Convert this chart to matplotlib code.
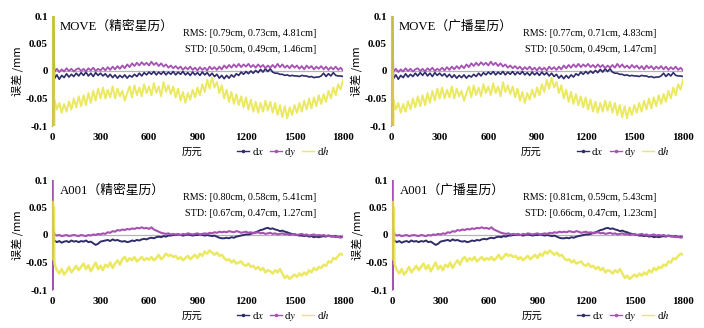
import numpy as np
import matplotlib
matplotlib.use("Agg")
import matplotlib.pyplot as plt
from matplotlib.lines import Line2D

plt.rcParams["font.family"] = ["Liberation Serif", "Noto Sans CJK SC"]
plt.rcParams["mathtext.fontset"] = "stix"

# epochs of the regular samples (every 15 epochs)
EPOCHS = np.arange(15, 1801, 15)

# convergence period at the start of each run (values clipped by the axis)
MOVE_HEAD_DX_EP = [7, 9]
MOVE_HEAD_DX = [-120, 120]
MOVE_HEAD_DY_EP = [10, 12, 13]
MOVE_HEAD_DY = [0, -120, 0]
MOVE_HEAD_DH_EP = [0, 2, 4, 6, 8, 10, 12, 14]
MOVE_HEAD_DH = [120, -120, 120, -120, 120, -120, 120, -120]

A001_HEAD_DX_EP = [5, 10]
A001_HEAD_DX = [-5, -12]
A001_HEAD_DY_EP = [0, 1, 2, 3, 6, 9, 12]
A001_HEAD_DY = [120, -120, 120, -120, 40, -10, 5]
A001_HEAD_DH_EP = [6, 9, 12]
A001_HEAD_DH = [60, -45, 50]

# errors in units of 1e-3 mm
MOVE_DX = [
    -14, -7, -15, -8, -12, -5, -11, -6, -10, -4,
    -9, -3, -8, -2, -9, -4, -10, -3, -8, -4,
    -9, -5, -11, -6, -12, -7, -13, -8, -12, -7,
    -13, -8, -11, -6, -10, -4, -9, -3, -7, -2,
    -6, -1, -7, -2, -6, -1, -7, -2, -6, -1,
    -7, -2, -6, -1, -7, -3, -8, -2, -7, -3,
    -8, -2, -7, -3, -9, -4, -10, -6, -13, -8,
    -14, -8, -13, -7, -11, -5, -8, -2, -6, -1,
    -5, 0, -4, 1, -3, 3, -2, 4, -1, 4,
    -2, -4, -4, -6, -6, -8, -7, -9, -8, -9,
    -9, -10, -8, -9, -9, -11, -10, -12, -11, -11,
    -9, -4, -10, -5, -9, -3, -8, -9, -9, -10,
]
MOVE_DY = [
    -1, 4, -2, 3, -1, 5, 0, 4, -1, 3,
    5, 0, 4, -1, 5, 1, 6, 0, 4, 1,
    6, 1, 7, 2, 8, 3, 9, 4, 10, 5,
    12, 7, 14, 9, 15, 10, 16, 11, 15, 10,
    17, 11, 15, 9, 14, 8, 12, 6, 10, 5,
    9, 4, 8, 2, 7, 3, 8, 2, 6, 1,
    7, 2, 6, 1, 8, 3, 7, 2, 8, 3,
    10, 5, 11, 6, 12, 7, 13, 7, 12, 8,
    13, 7, 11, 6, 12, 7, 11, 5, 10, 6,
    11, 6, 13, 7, 12, 6, 10, 5, 11, 6,
    10, 4, 9, 3, 10, 5, 9, 3, 8, 4,
    9, 3, 8, 2, 7, 3, 8, 2, 6, 1,
]
MOVE_DH = [
    -52, -70, -58, -76, -60, -74, -55, -70, -50, -66,
    -46, -64, -44, -62, -40, -58, -36, -54, -32, -50,
    -30, -50, -34, -48, -28, -50, -32, -46, -36, -54,
    -40, -28, -48, -26, -44, -30, -46, -24, -40, -28,
    -44, -22, -40, -28, -46, -20, -38, -26, -42, -28,
    -48, -32, -54, -38, -58, -40, -52, -34, -48, -30,
    -44, -24, -38, -16, -32, -12, -30, -20, -40, -26,
    -50, -34, -56, -38, -60, -42, -62, -46, -66, -48,
    -70, -52, -74, -56, -76, -58, -74, -54, -72, -56,
    -76, -58, -80, -62, -84, -64, -86, -66, -80, -62,
    -76, -58, -74, -54, -70, -50, -68, -48, -64, -44,
    -60, -42, -56, -36, -50, -30, -44, -24, -34, -16,
]

A001_DX = [
    -10, -13, -11, -14, -12, -11, -13, -10, -12, -11,
    -13, -11, -12, -10, -13, -12, -15, -18, -16, -12,
    -11, -10, -9, -11, -8, -10, -9, -11, -12, -11,
    -13, -12, -10, -11, -9, -10, -8, -7, -8, -6,
    -5, -6, -4, -3, -4, -2, -3, -1, -1, 0,
    0, 1, 0, -1, 0, 1, 0, -1, 0, 0,
    1, 0, -1, 0, -1, -2, -1, -3, -5, -6,
    -6, -5, -6, -4, -5, -3, -2, -1, 0, 1,
    1, 2, 4, 5, 7, 9, 10, 12, 13, 11,
    12, 10, 9, 7, 8, 6, 5, 3, 2, 1,
    0, -1, -1, -2, -1, -3, -2, -4, -3, -4,
    -3, -2, -3, -1, -2, -3, -2, -4, -3, -4,
]
A001_DY = [
    1, -1, 0, -2, -1, 0, -2, -1, 0, -1,
    -2, 0, -1, -2, 0, -1, 1, 0, 2, 1,
    3, 2, 5, 4, 7, 6, 9, 8, 10, 9,
    11, 10, 12, 11, 13, 12, 14, 12, 13, 11,
    14, 10, 8, 6, 4, 3, 2, 3, 1, 2,
    1, 2, 0, 2, 1, 3, 2, 1, 2, 3,
    1, 2, 3, 2, 4, 3, 5, 4, 6, 5,
    6, 5, 7, 6, 5, 7, 6, 4, 5, 6,
    4, 5, 3, 4, 5, 3, 4, 2, 3, 4,
    2, 3, 1, 2, 3, 1, 2, 0, 1, 2,
    0, 1, 2, 0, 1, -1, 0, 1, -1, 0,
    -1, 0, -2, -1, -3, -2, -4, -3, -5, -3,
]
A001_DH = [
    -52, -64, -70, -62, -72, -66, -58, -68, -62, -56,
    -64, -58, -52, -62, -55, -66, -58, -50, -62, -56,
    -64, -54, -58, -50, -60, -52, -46, -54, -44, -40,
    -48, -42, -46, -40, -48, -44, -40, -46, -42, -45,
    -40, -46, -42, -36, -44, -40, -34, -38, -36, -40,
    -38, -44, -40, -46, -42, -38, -44, -40, -36, -42,
    -34, -38, -30, -34, -28, -32, -36, -32, -38, -36,
    -42, -46, -44, -50, -46, -52, -50, -48, -54, -56,
    -52, -58, -56, -62, -58, -64, -60, -68, -64, -66,
    -70, -64, -68, -62, -70, -78, -74, -80, -76, -72,
    -76, -70, -74, -68, -72, -64, -68, -60, -64, -58,
    -60, -54, -56, -48, -50, -42, -44, -38, -34, -36,
]

TITLES = ["MOVE（精密星历）", "MOVE（广播星历）", "A001（精密星历）", "A001（广播星历）"]
RMS = ["[0.79cm, 0.73cm, 4.81cm]", "[0.77cm, 0.71cm, 4.83cm]",
       "[0.80cm, 0.58cm, 5.41cm]", "[0.81cm, 0.59cm, 5.43cm]"]
STD = ["[0.50cm, 0.49cm, 1.46cm]", "[0.50cm, 0.49cm, 1.47cm]",
       "[0.67cm, 0.47cm, 1.27cm]", "[0.66cm, 0.47cm, 1.23cm]"]

XTICKS = [0, 300, 600, 900, 1200, 1500, 1800]
YTICKS = [-0.1, -0.05, 0, 0.05, 0.1]
YTICKLABELS = ["-0.1", "-0.05", "0", "0.05", "0.1"]

C_DX = "#2e2c6a"
C_DY = "#a552b3"
C_DH = "#e6e43a"
A_DH = 0.8   # dh drawn slightly see-through, on top of the other two

CJK = ["Noto Sans CJK SC", "DejaVu Sans"]

STATIONS = {
    "MOVE": [
        (MOVE_HEAD_DX_EP, MOVE_HEAD_DX, MOVE_DX),
        (MOVE_HEAD_DY_EP, MOVE_HEAD_DY, MOVE_DY),
        (MOVE_HEAD_DH_EP, MOVE_HEAD_DH, MOVE_DH),
    ],
    "A001": [
        (A001_HEAD_DX_EP, A001_HEAD_DX, A001_DX),
        (A001_HEAD_DY_EP, A001_HEAD_DY, A001_DY),
        (A001_HEAD_DH_EP, A001_HEAD_DH, A001_DH),
    ],
}


def series(head_ep, head, main):
    x = np.concatenate([head_ep, EPOCHS])
    y = np.concatenate([head, main]) / 1000.0
    return x, y


def draw_panel(ax, station, title, rms, std, smooth):
    ax.axhline(0, color="#b4b4b4", lw=0.9, zorder=1)
    widths = [1.4, 1.5, 1.8] if smooth else [1.2, 1.3, 1.4]
    alphas = [1.0, 1.0, A_DH]
    for (hep, head, main), c, lw, a, z in zip(STATIONS[station], [C_DX, C_DY, C_DH],
                                             widths, alphas, [3, 4, 5]):
        x, y = series(hep, head, main)
        ax.plot(x, y, color=c, lw=lw, alpha=a, zorder=z)

    ax.set_xlim(0, 1800)
    ax.set_ylim(-0.1, 0.1)
    for s in ["top", "right", "bottom"]:
        ax.spines[s].set_visible(False)
    ax.spines["left"].set_color("#a0a0a0")
    ax.spines["left"].set_linewidth(0.8)
    ax.set_xticks(XTICKS)
    ax.set_xticklabels([str(t) for t in XTICKS])
    ax.set_yticks(YTICKS)
    ax.set_yticklabels(YTICKLABELS)
    ax.tick_params(axis="both", length=0, labelsize=7.8)
    ax.tick_params(axis="x", pad=5)
    ax.tick_params(axis="y", pad=3)
    for lab in ax.get_xticklabels() + ax.get_yticklabels():
        lab.set_fontweight("bold")

    ax.text(0.028, 0.9, title, transform=ax.transAxes, fontsize=9.2,
            ha="left", va="center", family=["Liberation Serif", "Noto Sans CJK SC"])
    ax.text(0.908, 0.845, "RMS: " + rms, transform=ax.transAxes, fontsize=7.3,
            ha="right", va="center")
    ax.text(0.908, 0.70, "STD: " + std, transform=ax.transAxes, fontsize=7.3,
            ha="right", va="center")

    ax.text(0.48, -0.235, "历元", transform=ax.transAxes, fontsize=7.5,
            ha="center", va="center", family=CJK, style="italic")
    ax.set_ylabel("误差 /mm", family=CJK, fontsize=8, labelpad=2)

    handles = [
        Line2D([], [], color=C_DX, lw=1.0, marker=".", markersize=3),
        Line2D([], [], color=C_DY, lw=1.0, marker=".", markersize=3),
        Line2D([], [], color=C_DH, lw=1.0, alpha=A_DH),
    ]
    ax.legend(handles, ["d$x$", "d$y$", "d$h$"], loc="center",
              bbox_to_anchor=(0.795, -0.235), ncol=3, frameon=False,
              fontsize=7.8, handlelength=1.1, handletextpad=0.25,
              columnspacing=0.55, borderaxespad=0)


fig = plt.figure(figsize=(7.04, 3.28), dpi=100)
W, H = 704.0, 328.0
# axes rectangles in pixels: left, top, right, bottom
boxes = [(52, 16, 343, 126), (391, 16, 683, 126),
         (52, 180, 343, 290), (392, 180, 683, 290)]
stations = ["MOVE", "MOVE", "A001", "A001"]
for (l, t, r, b), st, title, rms, std in zip(boxes, stations, TITLES, RMS, STD):
    ax = fig.add_axes([l / W, 1 - b / H, (r - l) / W, (b - t) / H])
    draw_panel(ax, st, title, rms, std, smooth=(st == "A001"))

fig.savefig("out.png", dpi=100)
